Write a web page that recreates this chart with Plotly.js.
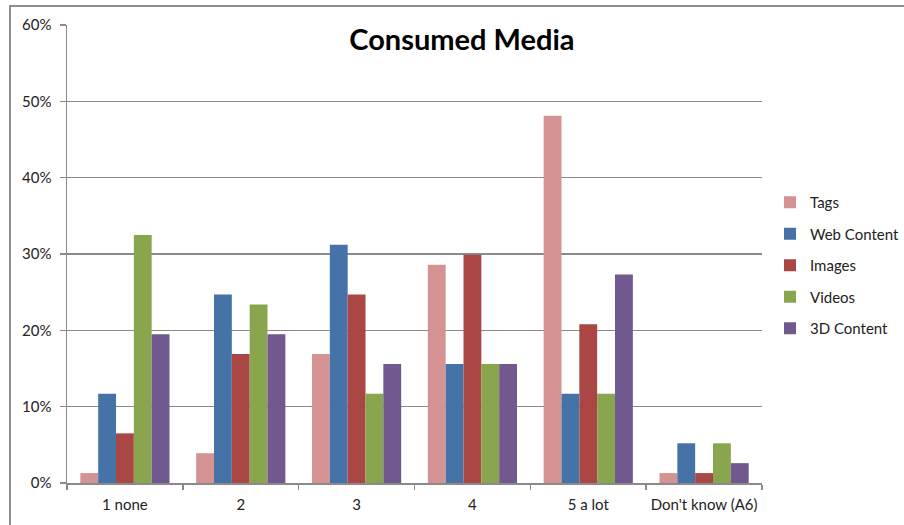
<!DOCTYPE html>
<html>
<head>
<meta charset="utf-8">
<script src="https://cdn.plot.ly/plotly-3.0.1.min.js"></script>
<style>
  html, body { margin: 0; padding: 0; background: #fff; }
  #wrap { position: relative; width: 904px; height: 525px; }
  #chart { position: absolute; left: 0; top: 0; width: 904px; height: 525px; }
  #frame { position: absolute; left: 9px; top: 5px; right: 0; bottom: 0;
           border-left: 2px solid #8e8e8e; border-top: 2px solid #8e8e8e;
           pointer-events: none; }
</style>
</head>
<body>
<div id="wrap">
  <div id="chart"></div>
  <div id="frame"></div>
</div>
<script>
// Survey answers, share of respondents (%)
const categories = ["1 none", "2", "3", "4", "5 a lot", "Don't know (A6)"];
const tags       = [1.3, 3.9, 16.9, 28.6, 48.1, 1.3];
const webContent = [11.7, 24.7, 31.2, 15.6, 11.7, 5.2];
const images     = [6.5, 16.9, 24.7, 29.9, 20.8, 1.3];
const videos     = [32.5, 23.4, 11.7, 15.6, 11.7, 5.2];
const content3d  = [19.5, 19.5, 15.6, 15.6, 27.3, 2.6];
const yTicks     = [0, 10, 20, 30, 40, 50, 60];

const seriesDefs = [
  { name: "Tags",        values: tags,       color: "#D49392" },
  { name: "Web Content", values: webContent, color: "#4572A7" },
  { name: "Images",      values: images,     color: "#AA4643" },
  { name: "Videos",      values: videos,     color: "#89A54E" },
  { name: "3D Content",  values: content3d,  color: "#71588F" }
];

const font = "Lato, 'Open Sans', 'Liberation Sans', sans-serif";
const labelSize = 15;

const traces = seriesDefs.map((s, i) => ({
  type: "bar",
  name: s.name,
  x: categories,
  y: s.values,
  legendgroup: "g" + i,
  marker: { color: s.color, line: { width: 0 } },
  hoverinfo: "x+y+name"
}));

const W = 904, H = 525;

const layout = {
  width: W,
  height: H,
  margin: { l: 67, r: 142, t: 25, b: 42, autoexpand: false },
  paper_bgcolor: "#ffffff",
  plot_bgcolor: "#ffffff",
  font: { family: font, size: labelSize, color: "#222" },
  title: {
    text: "<b>Consumed Media</b>",
    font: { family: font, size: 29, color: "#000" },
    xref: "container", yref: "container",
    x: 0.511, xanchor: "center",
    y: 0.924, yanchor: "middle"
  },
  barmode: "group",
  bargap: 0.23,
  bargroupgap: 0,
  xaxis: {
    type: "category",
    automargin: false,
    tickangle: 0,
    showgrid: false,
    showline: true,
    linecolor: "#8a8a8a",
    linewidth: 1.5,
    ticks: "outside",
    tickson: "boundaries",
    ticklen: 5,
    tickcolor: "#8a8a8a",
    tickwidth: 1.5,
    tickfont: { family: font, size: labelSize, color: "#222" },
    ticklabelstandoff: 7
  },
  yaxis: {
    automargin: false,
    range: [0, 60],
    tickvals: yTicks,
    ticktext: yTicks.map(v => v + "%"),
    showgrid: true,
    gridcolor: "#8a8a8a",
    gridwidth: 1.5,
    showline: true,
    linecolor: "#8a8a8a",
    linewidth: 1.5,
    ticks: "outside",
    ticklen: 6,
    tickcolor: "#8a8a8a",
    tickwidth: 1.5,
    zeroline: false,
    tickfont: { family: font, size: labelSize, color: "#222" },
    ticklabelstandoff: 5
  },
  legend: {
    xref: "container",
    yref: "container",
    x: 770 / W,
    y: 1 - 186 / H,
    xanchor: "left",
    yanchor: "top",
    traceorder: "grouped",
    tracegroupgap: 9,
    font: { family: font, size: labelSize, color: "#222" },
    bgcolor: "rgba(0,0,0,0)"
  },
  showlegend: true
};

Plotly.newPlot("chart", traces, layout, { displayModeBar: false, staticPlot: true });
</script>
</body>
</html>
